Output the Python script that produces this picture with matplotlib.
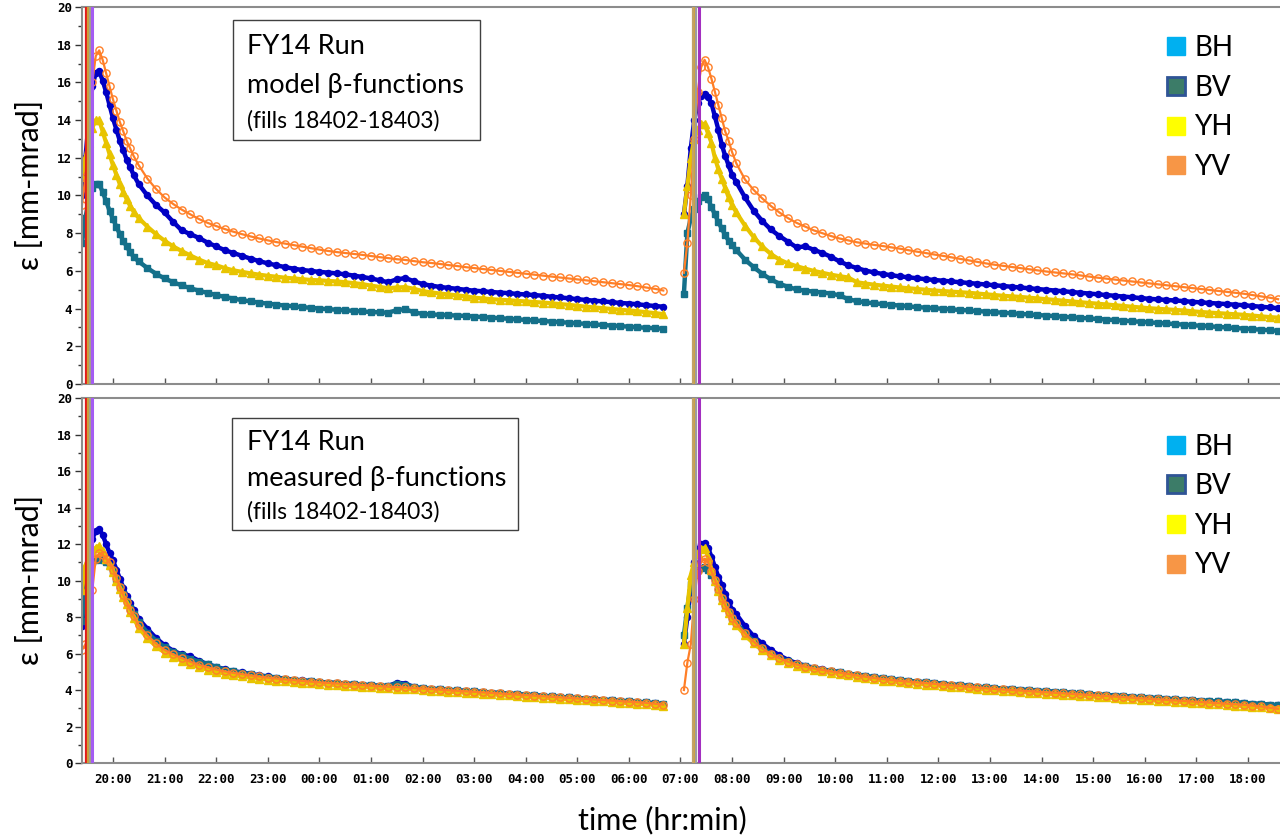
import numpy as np
import matplotlib
matplotlib.use("Agg")
import matplotlib.pyplot as plt
from matplotlib.lines import Line2D
from matplotlib.patches import Rectangle
from matplotlib.ticker import MultipleLocator

# ---------------------------------------------------------------------------
# Sample times, hours after midnight of the first day.
# Fill 18402: 4-minute samples through the peak, then 10-minute samples.
# Fill 18403: same scheme, starting the next morning.
# ---------------------------------------------------------------------------
t_fill1 = np.concatenate([19.4 + np.arange(16) * 4 / 60, 20.5 + np.arange(62) * 10 / 60])
t_fill2 = np.concatenate([31 + 4 / 60 + np.arange(15) * 4 / 60, 32 + 5 / 60 + np.arange(64) * 10 / 60])

hour_ticks = list(range(20, 43))
hour_labels = ["20:00", "21:00", "22:00", "23:00", "00:00", "01:00", "02:00", "03:00",
               "04:00", "05:00", "06:00", "07:00", "08:00", "09:00", "10:00", "11:00",
               "12:00", "13:00", "14:00", "15:00", "16:00", "17:00", "18:00"]

series_names = ["BH", "BV", "YH", "YV"]

# ---------------------------- model beta-functions --------------------------
model_bh_1 = [10.0, 12.0, 14.0, 15.8, 16.5, 16.6, 16.1, 15.5, 14.8, 14.1, 13.5, 12.9, 12.4, 11.9, 11.5, 11.1,
              10.6, 10.0, 9.5,
              9.1, 8.6, 8.15, 7.95, 7.75, 7.5,
              7.3, 7.1, 6.95, 6.8, 6.65, 6.52,
              6.4, 6.3, 6.2, 6.12, 6.05, 6.0,
              5.95, 5.91, 5.87, 5.82, 5.75, 5.68,
              5.6, 5.5, 5.4, 5.55, 5.62, 5.45,
              5.3, 5.22, 5.15, 5.1, 5.05, 5.0,
              4.95, 4.92, 4.88, 4.85, 4.82, 4.78,
              4.75, 4.72, 4.68, 4.63, 4.59, 4.55,
              4.5, 4.46, 4.42, 4.38, 4.34, 4.3,
              4.27, 4.23, 4.18, 4.14, 4.1]
model_bv_1 = [7.5, 8.8, 9.8, 10.4, 10.6, 10.6, 10.2, 9.7, 9.2, 8.75, 8.35, 7.95, 7.6, 7.3, 7.0, 6.75,
              6.5, 6.15, 5.85,
              5.6, 5.4, 5.23, 5.08, 4.95, 4.83,
              4.72, 4.62, 4.53, 4.45, 4.38, 4.32,
              4.26, 4.21, 4.16, 4.12, 4.08, 4.04,
              4.0, 3.97, 3.94, 3.91, 3.88, 3.85,
              3.82, 3.8, 3.78, 3.92, 3.97, 3.8,
              3.72, 3.69, 3.67, 3.65, 3.63, 3.61,
              3.58, 3.55, 3.52, 3.49, 3.46, 3.43,
              3.4, 3.37, 3.34, 3.31, 3.28, 3.25,
              3.22, 3.19, 3.16, 3.13, 3.1, 3.07,
              3.04, 3.01, 2.98, 2.96, 2.93]
model_yh_1 = [11.0, 12.0, 12.8, 13.6, 14.0, 14.0, 13.4, 12.8, 12.2, 11.6, 11.1, 10.6, 10.2, 9.8, 9.45, 9.15,
              8.8, 8.35, 7.95,
              7.6, 7.3, 7.05, 6.82, 6.6, 6.42,
              6.3, 6.15, 6.03, 5.95, 5.87, 5.8,
              5.74, 5.69, 5.64, 5.6, 5.56, 5.52,
              5.5, 5.47, 5.44, 5.4, 5.35, 5.3,
              5.22, 5.15, 5.08, 5.12, 5.14, 5.05,
              4.93, 4.86, 4.8, 4.75, 4.7, 4.65,
              4.58, 4.54, 4.5, 4.47, 4.44, 4.41,
              4.38, 4.35, 4.32, 4.28, 4.24, 4.2,
              4.15, 4.1, 4.06, 4.02, 3.98, 3.94,
              3.9, 3.86, 3.81, 3.76, 3.71]
model_yv_1 = [9.5, 11.0, 13.5, 16.0, 17.4, 17.7, 17.2, 16.5, 15.8, 15.1, 14.5, 13.9, 13.4, 12.9, 12.5, 12.1,
              11.6, 10.9, 10.35,
              9.9, 9.55, 9.25, 9.0, 8.75, 8.55,
              8.38, 8.22, 8.08, 7.95, 7.83, 7.72,
              7.62, 7.53, 7.45, 7.37, 7.29, 7.21,
              7.13, 7.06, 7.0, 6.95, 6.9, 6.85,
              6.79, 6.73, 6.68, 6.62, 6.58, 6.52,
              6.46, 6.42, 6.37, 6.31, 6.26, 6.2,
              6.15, 6.1, 6.05, 6.0, 5.95, 5.9,
              5.85, 5.8, 5.75, 5.7, 5.65, 5.6,
              5.55, 5.5, 5.45, 5.4, 5.35, 5.3,
              5.25, 5.19, 5.12, 5.05, 4.96]

model_bh_2 = [9.0, 10.5, 12.5, 14.0, 14.9, 15.3, 15.4, 15.2, 14.9, 14.2, 13.5, 12.7, 12.1, 11.6, 11.1,
              10.7, 9.9, 9.2, 8.65, 8.2, 7.85,
              7.55, 7.25, 7.3, 7.12, 6.95, 6.75,
              6.5, 6.3, 6.15, 6.02, 5.92, 5.84,
              5.77, 5.71, 5.66, 5.61, 5.56, 5.52,
              5.48, 5.44, 5.4, 5.36, 5.32, 5.28,
              5.24, 5.2, 5.16, 5.12, 5.08, 5.04,
              5.0, 4.96, 4.92, 4.88, 4.84, 4.8,
              4.76, 4.72, 4.68, 4.64, 4.6, 4.56,
              4.52, 4.49, 4.46, 4.43, 4.4, 4.36,
              4.33, 4.3, 4.27, 4.24, 4.21, 4.18,
              4.14, 4.1, 4.06, 4.02]
model_bv_2 = [4.8, 8.0, 8.8, 9.3, 9.7, 9.9, 10.0, 9.8, 9.4, 9.0, 8.6, 8.25, 7.9, 7.6, 7.35,
              7.1, 6.6, 6.2, 5.85, 5.55, 5.32,
              5.15, 5.02, 4.95, 4.9, 4.85, 4.8,
              4.7, 4.5, 4.4, 4.33, 4.28, 4.24,
              4.2, 4.16, 4.12, 4.08, 4.05, 4.02,
              3.99, 3.96, 3.93, 3.9, 3.87, 3.84,
              3.81, 3.78, 3.75, 3.72, 3.69, 3.66,
              3.63, 3.6, 3.57, 3.54, 3.51, 3.48,
              3.45, 3.42, 3.39, 3.36, 3.33, 3.3,
              3.27, 3.24, 3.21, 3.18, 3.15, 3.12,
              3.09, 3.06, 3.03, 3.0, 2.97, 2.94,
              2.91, 2.88, 2.85, 2.82]
model_yh_2 = [9.0, 10.5, 12.0, 13.0, 13.5, 13.8, 13.8, 13.3, 12.8, 12.0, 11.4, 10.9, 10.4, 9.9, 9.5,
              9.1, 8.4, 7.8, 7.3, 6.9, 6.6,
              6.4, 6.25, 6.12, 6.0, 5.9, 5.8,
              5.72, 5.65, 5.4, 5.33, 5.27, 5.22,
              5.17, 5.12, 5.08, 5.04, 5.0, 4.96,
              4.93, 4.9, 4.87, 4.84, 4.8, 4.76,
              4.72, 4.68, 4.65, 4.62, 4.58, 4.54,
              4.5, 4.46, 4.42, 4.38, 4.34, 4.3,
              4.26, 4.22, 4.18, 4.14, 4.1, 4.06,
              4.02, 3.99, 3.96, 3.93, 3.9, 3.86,
              3.82, 3.79, 3.76, 3.73, 3.7, 3.67,
              3.63, 3.59, 3.55, 3.52]
model_yv_2 = [5.9, 7.5, 10.0, 13.0, 15.5, 16.8, 17.2, 16.8, 16.2, 15.5, 14.8, 14.1, 13.4, 12.9, 12.3,
              11.7, 10.85, 10.3, 9.85, 9.45, 9.1,
              8.8, 8.55, 8.35, 8.15, 8.0, 7.85,
              7.72, 7.62, 7.52, 7.45, 7.38, 7.32,
              7.25, 7.18, 7.1, 7.02, 6.95, 6.87,
              6.8, 6.72, 6.64, 6.56, 6.48, 6.4,
              6.33, 6.27, 6.21, 6.15, 6.09, 6.03,
              5.97, 5.92, 5.87, 5.82, 5.76, 5.7,
              5.64, 5.59, 5.54, 5.49, 5.44, 5.39,
              5.34, 5.29, 5.24, 5.19, 5.14, 5.09,
              5.04, 4.99, 4.94, 4.89, 4.84, 4.79,
              4.72, 4.65, 4.58, 4.5]

# --------------------------- measured beta-functions ------------------------
meas_bh_1 = [7.5, 9.0, 10.5, 12.3, 12.7, 12.8, 12.5, 12.0, 11.5, 11.1, 10.6, 10.1, 9.6, 9.15, 8.75, 8.4,
             7.9, 7.35, 6.85,
             6.45, 6.15, 5.95, 5.85, 5.6, 5.42,
             5.27, 5.14, 5.04, 4.96, 4.88, 4.81,
             4.74, 4.68, 4.62, 4.57, 4.53, 4.49,
             4.45, 4.41, 4.38, 4.35, 4.32, 4.29,
             4.26, 4.23, 4.22, 4.4, 4.35, 4.16,
             4.1, 4.07, 4.04, 4.01, 3.98, 3.95,
             3.92, 3.89, 3.86, 3.83, 3.8, 3.77,
             3.74, 3.71, 3.68, 3.65, 3.62, 3.59,
             3.56, 3.53, 3.5, 3.47, 3.44, 3.41,
             3.38, 3.35, 3.32, 3.27, 3.22]
meas_bv_1 = [7.8, 9.5, 11.0, 11.0, 11.1, 11.2, 11.1, 11.0, 10.8, 10.5, 10.1, 9.65, 9.25, 8.85, 8.5, 8.15,
             7.7, 7.15, 6.7,
             6.35, 6.1, 5.9, 5.72, 5.55, 5.4,
             5.25, 5.12, 5.02, 4.93, 4.85, 4.78,
             4.72, 4.66, 4.61, 4.56, 4.52, 4.48,
             4.44, 4.41, 4.38, 4.35, 4.32, 4.29,
             4.26, 4.23, 4.22, 4.35, 4.3, 4.15,
             4.1, 4.07, 4.04, 4.01, 3.98, 3.95,
             3.92, 3.89, 3.86, 3.83, 3.8, 3.77,
             3.74, 3.71, 3.68, 3.65, 3.62, 3.59,
             3.56, 3.53, 3.5, 3.47, 3.44, 3.41,
             3.38, 3.35, 3.32, 3.27, 3.22]
meas_yh_1 = [9.5, 10.8, 11.3, 11.5, 11.8, 11.9, 11.6, 11.2, 10.85, 10.45, 10.0, 9.55, 9.1, 8.7, 8.3, 7.95,
             7.4, 6.85, 6.4,
             6.05, 5.8, 5.6, 5.4, 5.24, 5.11,
             4.99, 4.89, 4.81, 4.74, 4.68, 4.62,
             4.57, 4.52, 4.48, 4.44, 4.4, 4.36,
             4.33, 4.3, 4.27, 4.24, 4.21, 4.18,
             4.15, 4.12, 4.1, 4.08, 4.06, 4.03,
             4.0, 3.97, 3.94, 3.91, 3.88, 3.85,
             3.82, 3.79, 3.76, 3.73, 3.7, 3.67,
             3.64, 3.61, 3.58, 3.55, 3.52, 3.49,
             3.46, 3.43, 3.4, 3.37, 3.34, 3.31,
             3.28, 3.25, 3.22, 3.18, 3.13]
meas_yv_1 = [6.2, 6.5, 7.2, 9.5, 11.2, 11.5, 11.4, 11.2, 11.0, 10.6, 10.15, 9.65, 9.2, 8.8, 8.4, 8.05,
             7.55, 7.0, 6.55,
             6.2, 5.95, 5.75, 5.55, 5.38, 5.25,
             5.12, 5.02, 4.94, 4.87, 4.8, 4.74,
             4.68, 4.63, 4.58, 4.54, 4.5, 4.46,
             4.42, 4.39, 4.36, 4.33, 4.3, 4.27,
             4.24, 4.21, 4.18, 4.16, 4.14, 4.11,
             4.08, 4.05, 4.02, 3.99, 3.96, 3.93,
             3.9, 3.87, 3.84, 3.81, 3.78, 3.75,
             3.72, 3.69, 3.66, 3.63, 3.6, 3.57,
             3.54, 3.51, 3.48, 3.45, 3.42, 3.39,
             3.36, 3.33, 3.3, 3.25, 3.2]

meas_bh_2 = [6.5, 8.0, 9.5, 11.0, 11.7, 12.0, 12.05, 11.8, 11.3, 10.75, 10.2, 9.75, 9.25, 8.8, 8.4,
             8.15, 7.5, 6.95, 6.55, 6.2, 5.9,
             5.65, 5.47, 5.33, 5.22, 5.13, 5.05,
             4.98, 4.9, 4.83, 4.76, 4.7, 4.64,
             4.59, 4.54, 4.5, 4.46, 4.42, 4.38,
             4.34, 4.3, 4.26, 4.22, 4.18, 4.14,
             4.11, 4.08, 4.05, 4.02, 3.99, 3.96,
             3.93, 3.9, 3.87, 3.84, 3.81, 3.78,
             3.75, 3.72, 3.69, 3.66, 3.63, 3.6,
             3.58, 3.55, 3.52, 3.49, 3.47, 3.44,
             3.42, 3.39, 3.37, 3.34, 3.32, 3.29,
             3.26, 3.23, 3.2, 3.16]
meas_bv_2 = [7.0, 8.5, 9.8, 10.3, 10.6, 10.7, 10.75, 10.6, 10.3, 9.95, 9.5, 9.05, 8.65, 8.3, 7.95,
             7.68, 7.12, 6.68, 6.3, 6.0, 5.77,
             5.57, 5.42, 5.3, 5.2, 5.12, 5.04,
             4.97, 4.9, 4.83, 4.76, 4.7, 4.64,
             4.59, 4.54, 4.5, 4.46, 4.42, 4.38,
             4.34, 4.3, 4.26, 4.22, 4.18, 4.14,
             4.11, 4.08, 4.05, 4.02, 3.99, 3.96,
             3.93, 3.9, 3.87, 3.84, 3.81, 3.78,
             3.75, 3.72, 3.69, 3.66, 3.63, 3.6,
             3.58, 3.55, 3.52, 3.49, 3.47, 3.44,
             3.42, 3.39, 3.37, 3.34, 3.32, 3.29,
             3.26, 3.23, 3.2, 3.16]
meas_yh_2 = [6.5, 8.5, 10.3, 11.0, 11.5, 11.7, 11.8, 11.3, 10.6, 10.0, 9.45, 8.95, 8.55, 8.2, 7.85,
             7.55, 7.0, 6.55, 6.18, 5.9, 5.67,
             5.47, 5.32, 5.2, 5.1, 5.02, 4.94,
             4.87, 4.8, 4.72, 4.65, 4.58, 4.52,
             4.47, 4.42, 4.38, 4.34, 4.3, 4.26,
             4.22, 4.18, 4.14, 4.1, 4.06, 4.02,
             3.98, 3.95, 3.92, 3.89, 3.86, 3.83,
             3.8, 3.77, 3.74, 3.71, 3.68, 3.65,
             3.62, 3.59, 3.56, 3.53, 3.5, 3.47,
             3.44, 3.41, 3.38, 3.35, 3.32, 3.29,
             3.27, 3.24, 3.21, 3.18, 3.15, 3.12,
             3.09, 3.05, 3.01, 2.98]
meas_yv_2 = [4.0, 5.5, 6.5, 9.0, 10.5, 11.0, 11.2, 11.0, 10.5, 10.05, 9.55, 9.05, 8.65, 8.3, 7.95,
             7.65, 7.1, 6.65, 6.28, 5.98, 5.75,
             5.55, 5.4, 5.28, 5.18, 5.1, 5.02,
             4.95, 4.88, 4.8, 4.73, 4.66, 4.6,
             4.55, 4.5, 4.46, 4.42, 4.38, 4.34,
             4.3, 4.26, 4.22, 4.18, 4.14, 4.1,
             4.06, 4.03, 4.0, 3.97, 3.94, 3.91,
             3.88, 3.85, 3.82, 3.79, 3.76, 3.73,
             3.7, 3.67, 3.64, 3.61, 3.58, 3.55,
             3.52, 3.49, 3.46, 3.43, 3.4, 3.37,
             3.34, 3.31, 3.28, 3.25, 3.22, 3.19,
             3.15, 3.1, 3.03, 2.97]

# Injection / ramp event markers (hours) and their trace colours
event_times = [19.483, 19.515, 19.552, 19.603, 31.24, 31.275, 31.305, 31.35]
event_colors = ["#e31a1a", "#c9a13a", "#a3a08a", "#a45cf2",
                "#c2a467", "#d6a23a", "#9c9c9c", "#a32fc0"]

# ---------------------------------------------------------------------------
plt.rcParams["font.family"] = ["Lato", "DejaVu Sans"]

marker_style = {
    "BH": dict(marker="o", ms=4.4, color="#0000c4", mec="#0000c4", lw=3.2),
    "BV": dict(marker="s", ms=4.0, color="#14708a", mec="#14708a", lw=3.2),
    "YH": dict(marker="^", ms=5.2, color="#e8c400", mec="#e8c400", lw=3.0),
    "YV": dict(marker="o", ms=5.2, color="#ff7f27", mfc="none", mec="#ff7f27", mew=1.0, lw=1.6),
}
legend_style = {
    "BH": dict(mfc="#00b0f0", mec="#00b0f0"),
    "BV": dict(mfc="#3c7c68", mec="#2f5496", mew=2.0),
    "YH": dict(mfc="#ffff00", mec="#ffff00"),
    "YV": dict(mfc="#f79646", mec="#f79646"),
}

W, H = 1280, 838
fig = plt.figure(figsize=(W / 100, H / 100), dpi=100)
ax_top = fig.add_axes([82 / W, 1 - 384 / H, 1198 / W, 377 / H])
ax_bot = fig.add_axes([82 / W, 1 - 763 / H, 1198 / W, 365 / H])

panels = [
    (ax_top, [model_bh_1, model_bv_1, model_yh_1, model_yv_1],
     [model_bh_2, model_bv_2, model_yh_2, model_yv_2]),
    (ax_bot, [meas_bh_1, meas_bv_1, meas_yh_1, meas_yv_1],
     [meas_bh_2, meas_bv_2, meas_yh_2, meas_yv_2]),
]

tick_font = dict(family="DejaVu Sans Mono", weight="bold", size=9)

for ax, fill1, fill2 in panels:
    for name, v1, v2 in zip(series_names, fill1, fill2):
        st = dict(marker_style[name])
        lw = st.pop("lw")
        for t, v in ((t_fill1, v1), (t_fill2, v2)):
            ax.plot(t, v, ls="-", lw=lw, solid_joinstyle="round", **st)
    for et, ec in zip(event_times, event_colors):
        ax.axvline(et, color=ec, lw=2.2 if ec in ("#a45cf2", "#a32fc0") else 1.6, zorder=5)

    ax.set_xlim(19.4, 42.62)
    ax.set_ylim(0, 20)
    ax.yaxis.set_major_locator(MultipleLocator(2))
    ax.yaxis.set_minor_locator(MultipleLocator(1))
    ax.set_xticks(hour_ticks)
    ax.tick_params(axis="y", which="major", direction="out", length=5, width=1, color="#333333", pad=2)
    ax.tick_params(axis="y", which="minor", direction="out", length=3, width=1, color="#333333")
    ax.tick_params(axis="x", which="major", direction="in", length=4, width=1, color="#555555", pad=7)
    for s in ("left", "bottom", "top"):
        ax.spines[s].set_color("#8c8c8c")
        ax.spines[s].set_linewidth(1.5)
    ax.spines["right"].set_visible(False)
    for lab in ax.get_yticklabels():
        lab.set_fontproperties(tick_font)

    handles = [Line2D([], [], ls="", marker="s", ms=13, **legend_style[n]) for n in series_names]
    leg = ax.legend(handles, series_names, loc="upper left", frameon=False,
                    fontsize=20, handlelength=0.7, handletextpad=0.3, labelspacing=0.49,
                    borderaxespad=0)
    for txt in leg.get_texts():
        txt.set_family(["Lato", "DejaVu Sans"])

ax_top.legend_.set_bbox_to_anchor((0.896, 0.955), transform=ax_top.transAxes)
ax_bot.legend_.set_bbox_to_anchor((0.896, 0.933), transform=ax_bot.transAxes)

ax_top.set_xticklabels([])
ax_bot.set_xticklabels(hour_labels)
for lab in ax_bot.get_xticklabels():
    lab.set_fontproperties(tick_font)

# Annotation boxes
def note_box(x0, y0, x1, y1, lines):
    fig.add_artist(Rectangle((x0 / W, 1 - y1 / H), (x1 - x0) / W, (y1 - y0) / H,
                             transform=fig.transFigure, fill=False, ec="#404040", lw=1.0))
    for ty, text, size in lines:
        fig.text(247 / W, 1 - ty / H, text, fontsize=size, va="center", ha="left",
                 family=["Lato", "DejaVu Sans"])

note_box(233, 20, 480, 140, [(46, "FY14 Run", 19.5), (85, "model β-functions", 19.5),
                             (121, "(fills 18402-18403)", 16.5)])
note_box(232, 418, 518, 530, [(442, "FY14 Run", 19.5), (478, "measured β-functions", 19.5),
                              (512, "(fills 18402-18403)", 16.5)])

fig.text(30 / W, 1 - 185 / H, "ε [mm-mrad]", rotation=90, fontsize=22, ha="center", va="center")
fig.text(30 / W, 1 - 580 / H, "ε [mm-mrad]", rotation=90, fontsize=22, ha="center", va="center")
fig.text(662 / W, 1 - 820 / H, "time (hr:min)", fontsize=22, ha="center", va="center")

fig.savefig("out.png", dpi=100)
